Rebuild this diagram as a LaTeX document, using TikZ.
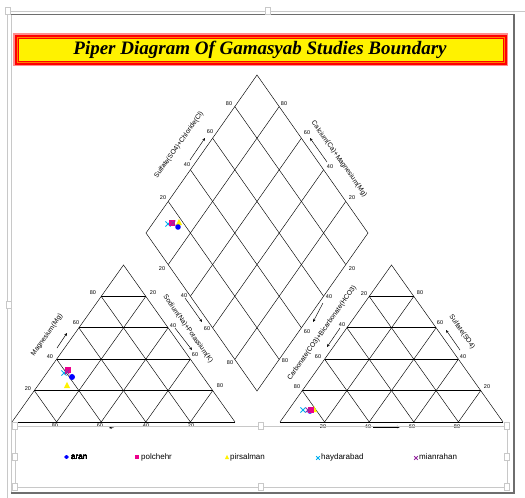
\documentclass[tikz,border=0pt]{standalone}
\usepackage{fontspec}
\setmainfont{Liberation Sans}
\newfontfamily\titlefont{Liberation Serif}
\usetikzlibrary{calc,arrows.meta}

\definecolor{bannerpink}{RGB}{255,140,140}
\definecolor{mianpurple}{RGB}{150,40,160}
\definecolor{framegray}{RGB}{110,110,110}
\definecolor{selgray}{RGB}{200,200,200}

\tikzset{
  grid line/.style={black,line width=0.45pt},
  level line/.style={black,line width=0.9pt},
  tick label/.style={font=\fontsize{5.5}{6}\selectfont,inner sep=0pt},
  axis title/.style={font=\fontsize{6.8}{8}\selectfont,inner sep=0pt},
  axis arrow/.style={black,line width=0.45pt,-{Stealth[length=3pt,width=2.6pt]}},
  legend text/.style={font=\fontsize{8}{9}\selectfont,inner sep=0pt,anchor=west},
  selhandle/.style={draw=selgray,fill=white,line width=0.6pt},
}

% selection handle
\newcommand{\selbox}[2]{\filldraw[selhandle] ({#1-2.5},{#2-3.5}) rectangle ({#1+2.5},{#2+3.5});}
% sample markers
\newcommand{\aranpt}[3]{\fill[blue] (#1,#2) circle (#3);}
\newcommand{\polpt}[3]{\fill[magenta] ({#1-#3},{#2-#3}) rectangle ({#1+#3},{#2+#3});}
\newcommand{\pirpt}[3]{\fill[yellow] ({#1},{#2-#3}) -- ({#1+#3},{#2+#3}) -- ({#1-#3},{#2+#3}) -- cycle;}
\newcommand{\haypt}[3]{\draw[cyan,line width=0.9pt]
  ({#1-#3},{#2-#3}) -- ({#1+#3},{#2+#3}) ({#1-#3},{#2+#3}) -- ({#1+#3},{#2-#3});}
\newcommand{\mianpt}[3]{\draw[mianpurple,line width=0.9pt]
  ({#1-#3},{#2-#3}) -- ({#1+#3},{#2+#3}) ({#1-#3},{#2+#3}) -- ({#1+#3},{#2-#3});}

\begin{document}
\begin{tikzpicture}[x=1pt,y=-1pt]
  \useasboundingbox[fill=white] (0,0) rectangle (525,498);

  % selection outline and chart frame
  \draw[selgray,line width=0.8pt] (7,498) -- (7,11) -- (525,11);
  \draw[selgray,line width=0.8pt] (11,14.5) -- (11,493);
  \draw[framegray,line width=1.2pt] (11,14.5) -- (514,14.5) -- (514,493) -- (11,493);
  \selbox{8}{11}
  \selbox{268}{11}
  \selbox{9}{305}

  % title banner
  \fill[bannerpink] (13,33) rectangle (508,66);
  \fill[red] (14.5,34.5) rectangle (506.5,64.5);
  \fill[orange] (16.5,36.5) rectangle (504.5,62.5);
  \fill[red] (17.5,37.5) rectangle (503.5,61.5);
  \fill[yellow] (18.5,38.5) rectangle (502.5,60.5);
  \node[font=\titlefont\bfseries\itshape\fontsize{19}{21}\selectfont] (title)
    at (260,49.5) {Piper Diagram Of Gamasyab Studies Boundary};

  \coordinate (Lleft) at (12,422);
  \coordinate (Lright) at (235,422);
  \coordinate (Ltop) at (123.5,265);
  \coordinate (Rleft) at (280,422);
  \coordinate (Rright) at (503,422);
  \coordinate (Rtop) at (391.5,265);
  \coordinate (Dtop) at (257,75);
  \coordinate (Dleft) at (146,233);
  \coordinate (Dright) at (368,233);
  \coordinate (Dbot) at (257,391);

  % cation triangle
  \draw[grid line] (Lleft) -- (Ltop) -- (Lright);
  \draw[level line] (Lleft) -- (Lright);
  \foreach \f [evaluate=\f as \g using 1-\f] in {0.2,0.4,0.6,0.8} {
    \draw[level line] ($(Lleft)!\f!(Ltop)$) -- ($(Lright)!\f!(Ltop)$);
    \draw[grid line] ($(Lleft)!\f!(Lright)$) -- ($(Lleft)!\f!(Ltop)$);
    \draw[grid line] ($(Lleft)!\f!(Lright)$) -- ($(Lright)!\g!(Ltop)$);
  }

  % anion triangle
  \draw[grid line] (Rleft) -- (Rtop) -- (Rright);
  \draw[level line] (Rleft) -- (Rright);
  \foreach \f [evaluate=\f as \g using 1-\f] in {0.2,0.4,0.6,0.8} {
    \draw[level line] ($(Rleft)!\f!(Rtop)$) -- ($(Rright)!\f!(Rtop)$);
    \draw[grid line] ($(Rleft)!\f!(Rright)$) -- ($(Rleft)!\f!(Rtop)$);
    \draw[grid line] ($(Rleft)!\f!(Rright)$) -- ($(Rright)!\g!(Rtop)$);
  }

  % diamond
  \draw[grid line] (Dtop) -- (Dleft) -- (Dbot) -- (Dright) -- cycle;
  \foreach \f in {0.2,0.4,0.6,0.8} {
    \draw[grid line] ($(Dtop)!\f!(Dleft)$) -- ($(Dright)!\f!(Dbot)$);
    \draw[grid line] ($(Dtop)!\f!(Dright)$) -- ($(Dleft)!\f!(Dbot)$);
  }

  % tick labels
  \foreach \t/\x/\y in {80/93/293,60/76/323,40/50/357,20/28/389,
      20/153/293,40/173/326,60/195/355,80/220/386,
      80/55/426,60/100/426,40/146/426,20/191/426}
    \node[tick label] at (\x,\y) {\t};
  \foreach \t/\x/\y in {20/364/294,40/342/325,60/318/357,80/297/387,
      80/420/293,60/440/323,40/463/357,20/487/387,
      20/323/427,40/368/427,60/412/427,80/457/427}
    \node[tick label] at (\x,\y) {\t};
  \foreach \t/\x/\y in {20/163/198,40/187/165,60/210/132,80/229/104,
      80/284/104,60/307/133,40/330/167,20/352/198,
      20/162/269,40/184/296,60/207/329,80/230/363,
      20/352/269,40/329/297,60/307/332,80/285/361}
    \node[tick label] at (\x,\y) {\t};

  % axis titles
  \node[axis title,rotate=54.7] (tMg) at (47,335) {Magnesium(Mg)};
  \node[axis title,rotate=-54.7] (tNaK) at (188,329) {Sodium(Na)+Potassium(K)};
  \node[axis title,rotate=54.7] (tCO3) at (322,333) {Carbonate(CO3)+Bicarbonate(HCO3)};
  \node[axis title,rotate=-54.7] (tSO4) at (462,332) {Sulfate(SO4)};
  \node[axis title,rotate=54.7] (tSCl) at (179,145) {Sulfate(SO4)+Chloride(Cl)};
  \node[axis title,rotate=-54.7] (tCaMg) at (339,159) {Calcium(Ca)+Magnesium(Mg)};

  % axis arrows
  \draw[axis arrow] (57,348) -- (67,333);
  \draw[axis arrow] (175,328) -- (192,350);
  \draw[axis arrow] (185,298) -- (202,322);
  \draw[axis arrow] (190,160) -- (205,138);
  \draw[axis arrow] (327,162) -- (310,138);
  \draw[axis arrow] (323,303) -- (313,322);
  \draw[axis arrow] (340,328) -- (327,347);
  \draw[axis arrow] (460,350) -- (446,330);
  \draw[axis arrow] (373,427) -- (400,427);
  \draw[axis arrow] (114,427) -- (109,428);

  % samples
  \haypt{64}{373}{2.6}
  \polpt{68}{370}{3}
  \mianpt{67}{372}{2.4}
  \aranpt{72}{377}{3}
  \pirpt{67}{385}{3.2}

  \haypt{168}{224}{2.6}
  \polpt{172}{223}{3}
  \mianpt{173}{223}{2.4}
  \pirpt{179}{222}{3.2}
  \aranpt{178}{227}{2.8}

  \aranpt{310}{411}{2.8}
  \haypt{303}{410}{2.6}
  \pirpt{314}{409}{3.2}
  \polpt{311}{410}{3}
  \mianpt{308}{410}{2.4}

  % legend
  \draw[selgray,line width=0.8pt] (15,426) rectangle (507,487);
  \foreach \x/\y in {15/426,261/426,507/426,15/457,507/457,15/487,261/487,507/487}
    \selbox{\x}{\y}
  \aranpt{66.5}{457}{1.8}
  \node[legend text] (lgAran) at (71,457) {aran};
  \polpt{137}{457}{2}
  \node[legend text] (lgPol) at (141,457) {polchehr};
  \pirpt{227}{457}{2.2}
  \node[legend text] (lgPir) at (230,457) {pirsalman};
  \haypt{318}{458}{1.8}
  \node[legend text] (lgHay) at (321,457) {haydarabad};
  \mianpt{416}{458}{1.8}
  \node[legend text] (lgMian) at (419,457) {mianrahan};
\end{tikzpicture}
\end{document}
